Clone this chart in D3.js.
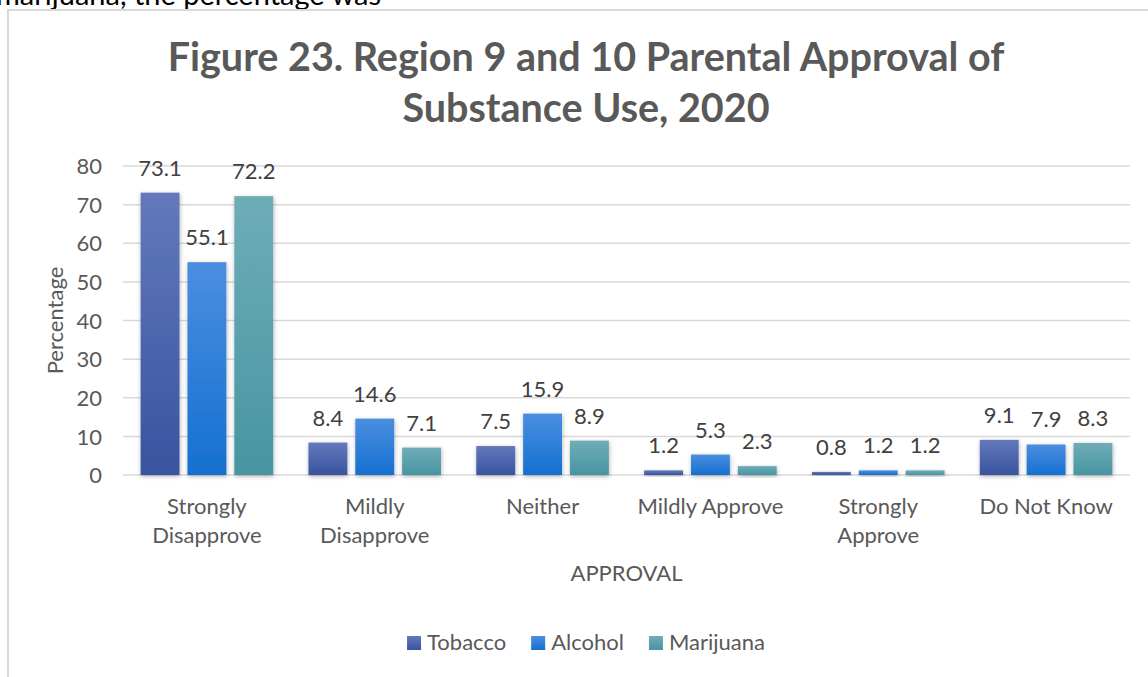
<!DOCTYPE html>
<html>
<head>
<meta charset="utf-8">
<script src="https://cdn.jsdelivr.net/npm/d3@7/dist/d3.min.js"></script>
<style>
  html, body { margin: 0; padding: 0; background: #fff; }
  svg { display: block; }
  text { font-family: Lato, "Noto Sans", sans-serif; }
</style>
</head>
<body>
<svg id="chart" width="1148" height="677"></svg>
<script>
// Parental approval of substance use, by approval level (percent)
const categories = [
  ["Strongly", "Disapprove"],
  ["Mildly", "Disapprove"],
  ["Neither"],
  ["Mildly Approve"],
  ["Strongly", "Approve"],
  ["Do Not Know"]
];
const seriesNames = ["Tobacco", "Alcohol", "Marijuana"];
const tobacco   = [73.1, 8.4, 7.5, 1.2, 0.8, 9.1];
const alcohol   = [55.1, 14.6, 15.9, 5.3, 1.2, 7.9];
const marijuana = [72.2, 7.1, 8.9, 2.3, 1.2, 8.3];
const yTicks = [0, 10, 20, 30, 40, 50, 60, 70, 80];
const titleLines = ["Figure 23. Region 9 and 10 Parental Approval of", "Substance Use, 2020"];
const xAxisTitle = "APPROVAL";
const yAxisTitle = "Percentage";
const bodyTextAbove = "marijuana, the percentage was";

const seriesValues = [tobacco, alcohol, marijuana];
// colour ramps (top, bottom) for each series
const seriesColors = [
  ["#6379bb", "#3953a0"],
  ["#4b8ee1", "#1470d0"],
  ["#6fadb7", "#4795a1"]
];

const svg = d3.select("#chart");
const labelSize = 22;

const defs = svg.append("defs");
seriesColors.forEach((c, i) => {
  const g = defs.append("linearGradient")
    .attr("id", "grad" + i)
    .attr("x1", 0).attr("y1", 0).attr("x2", 0).attr("y2", 1);
  g.append("stop").attr("offset", "0%").attr("stop-color", c[0]);
  g.append("stop").attr("offset", "100%").attr("stop-color", c[1]);
});
const shadow = defs.append("filter").attr("id", "shadow")
  .attr("x", "-30%").attr("y", "-30%").attr("width", "160%").attr("height", "160%");
shadow.append("feDropShadow")
  .attr("dx", 0.5).attr("dy", 1.5).attr("stdDeviation", 2)
  .attr("flood-color", "#000").attr("flood-opacity", 0.3);

// surrounding document line, running off the page top
svg.append("text")
  .attr("x", -4).attr("y", 5)
  .attr("font-size", 29)
  .attr("fill", "#000")
  .text(bodyTextAbove);

// chart frame
svg.append("rect")
  .attr("x", 8).attr("y", 10)
  .attr("width", 1160).attr("height", 700)
  .attr("fill", "#fff")
  .attr("stroke", "#d9d9d9").attr("stroke-width", 2);

const chartCenter = 586;

// title
const title = svg.append("text")
  .attr("text-anchor", "middle")
  .attr("font-weight", "bold")
  .attr("font-size", 39.5)
  .attr("fill", "#595959");
titleLines.forEach((t, i) => {
  title.append("tspan").attr("x", chartCenter).attr("y", 71 + i * 51).text(t);
});

// scales
const plot = { left: 123, right: 1130, top: 166, bottom: 475 };
const y = d3.scaleLinear().domain([0, 80]).range([plot.bottom, plot.top]);
const x0 = d3.scaleBand()
  .domain(d3.range(categories.length))
  .range([plot.left, plot.right])
  .paddingInner(0.21).paddingOuter(0.105);
const x1 = d3.scaleBand()
  .domain(d3.range(seriesNames.length))
  .range([0, x0.bandwidth()])
  .paddingInner(0.17);

// gridlines
svg.append("g")
  .selectAll("line")
  .data(yTicks)
  .join("line")
  .attr("x1", plot.left).attr("x2", plot.right)
  .attr("y1", d => y(d)).attr("y2", d => y(d))
  .attr("stroke", "#d9d9d9").attr("stroke-width", 1.5);

// y axis tick labels
const yAxis = d3.axisLeft(y).tickValues(yTicks).tickSize(0).tickPadding(0);
const yAxisG = svg.append("g")
  .attr("transform", `translate(${plot.left - 21},0)`)
  .call(yAxis);
yAxisG.select(".domain").remove();
yAxisG.selectAll("text")
  .attr("font-family", "Lato, 'Noto Sans', sans-serif")
  .attr("font-size", labelSize)
  .attr("fill", "#595959")
  .attr("dy", "0.35em");

// y axis title
svg.append("text")
  .attr("transform", `translate(63,${(plot.top + plot.bottom) / 2}) rotate(-90)`)
  .attr("text-anchor", "middle")
  .attr("font-size", labelSize)
  .attr("fill", "#595959")
  .text(yAxisTitle);

// bars
const groups = svg.append("g")
  .selectAll("g")
  .data(categories.map((c, i) => i))
  .join("g")
  .attr("transform", i => `translate(${x0(i)},0)`);

const barData = i => seriesValues.map((vals, s) => ({ s, v: vals[i] }));

groups.selectAll("rect")
  .data(barData)
  .join("rect")
  .attr("x", d => x1(d.s))
  .attr("width", x1.bandwidth())
  .attr("y", d => y(d.v))
  .attr("height", d => y(0) - y(d.v))
  .attr("fill", d => `url(#grad${d.s})`)
  .attr("filter", "url(#shadow)");

// value labels
groups.selectAll("text.value")
  .data(barData)
  .join("text")
  .attr("class", "value")
  .attr("x", d => x1(d.s) + x1.bandwidth() / 2)
  .attr("y", d => y(d.v) - 17)
  .attr("text-anchor", "middle")
  .attr("font-size", labelSize)
  .attr("fill", "#404040")
  .text(d => d.v.toFixed(1));

// category labels
const catLabels = svg.append("g")
  .selectAll("text")
  .data(categories)
  .join("text")
  .attr("text-anchor", "middle")
  .attr("font-size", labelSize)
  .attr("fill", "#595959");
catLabels.each(function(lines, i) {
  d3.select(this).selectAll("tspan")
    .data(lines)
    .join("tspan")
    .attr("x", x0(i) + x0.bandwidth() / 2)
    .attr("y", (d, k) => 514 + k * 29)
    .text(d => d);
});

// x axis title
svg.append("text")
  .attr("x", (plot.left + plot.right) / 2)
  .attr("y", 581)
  .attr("text-anchor", "middle")
  .attr("font-size", labelSize)
  .attr("fill", "#595959")
  .text(xAxisTitle);

// legend
const legend = svg.append("g");
const items = legend.selectAll("g")
  .data(seriesNames)
  .join("g");
items.append("rect")
  .attr("width", 14).attr("height", 14)
  .attr("y", 636)
  .attr("fill", (d, i) => `url(#grad${i})`);
items.append("text")
  .attr("x", 20).attr("y", 650)
  .attr("font-size", labelSize)
  .attr("fill", "#595959")
  .text(d => d);
const gaps = 25;
const widths = [];
items.each(function() {
  widths.push(this.getBBox().width);
});
const total = d3.sum(widths) + gaps * (widths.length - 1);
let offset = chartCenter - total / 2;
items.attr("transform", (d, i) => {
  const tx = offset;
  offset += widths[i] + gaps;
  return `translate(${tx},0)`;
});
</script>
</body>
</html>
